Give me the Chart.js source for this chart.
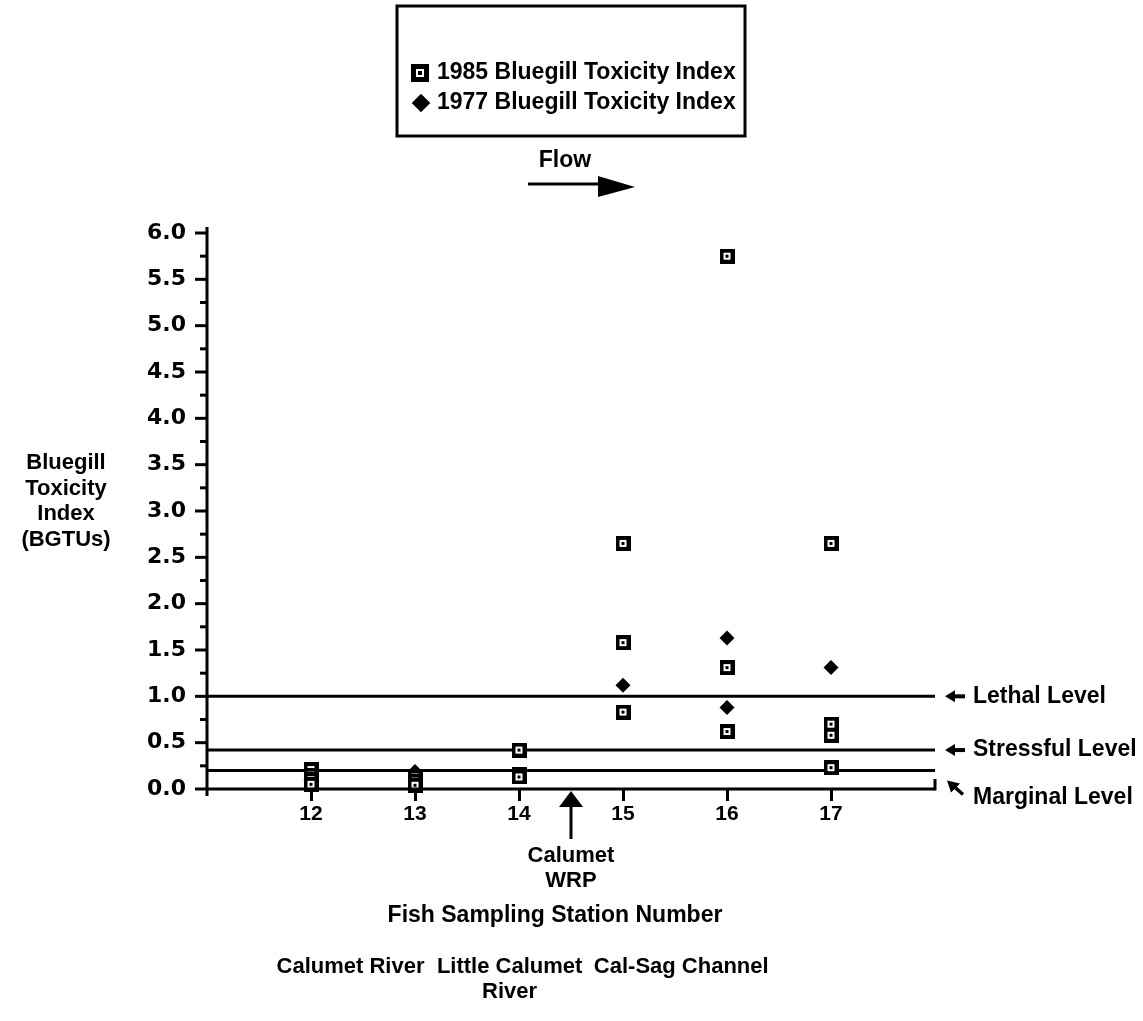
<!DOCTYPE html>
<html lang="en">
<head>
  <meta charset="UTF-8" />
  <title>Bluegill Toxicity Index by Fish Sampling Station</title>
  <script src="https://cdn.jsdelivr.net/npm/chart.js"></script>
  <style>
    body { margin: 0; background: #fff; }
    #wrap { width: 1143px; height: 1021px; position: relative; }
  </style>
</head>
<body>
  <div id="wrap"><canvas id="bgtChart"></canvas></div>

  <script>
    // stations along the x axis
    const stations = [12, 13, 14, 15, 16, 17];
    const yTickValues = [0, 0.5, 1, 1.5, 2, 2.5, 3, 3.5, 4, 4.5, 5, 5.5, 6];
    const yTickLabels = ['0.0', '0.5', '1.0', '1.5', '2.0', '2.5', '3.0', '3.5', '4.0', '4.5', '5.0', '5.5', '6.0'];

    // 1985 survey (squares), lower values last so they sit on top
    const x1985 = [12, 12, 12, 12, 13, 13, 13, 14, 14, 14, 15, 15, 15, 16, 16, 16, 17, 17, 17, 17];
    const y1985 = [0.21, 0.15, 0.1, 0.05, 0.13, 0.085, 0.04, 0.42, 0.16, 0.13, 2.65, 1.58, 0.83, 5.75, 1.31, 0.62, 2.65, 0.7, 0.58, 0.23];

    // 1977 survey (diamonds)
    const x1977 = [12, 13, 15, 16, 16, 17];
    const y1977 = [0.1, 0.19, 1.12, 1.63, 0.88, 1.31];

    // reference levels
    const levelNames = ['Lethal Level', 'Stressful Level', 'Marginal Level'];
    const levelValues = [1.0, 0.42, 0.2];

    // river reaches under the axis
    const reachNames = [['Calumet River'], ['Little Calumet', 'River'], ['Cal-Sag Channel']];
    const reachX = [12.38, 13.91, 15.56];
    const wrpStation = 14.5;

    const SANS = '"Liberation Sans", Arial, sans-serif';
    const FONT = 'bold 22px ' + SANS;
    const FONT_L = 'bold 23px ' + SANS;
    const FONT_NUM = 'bold 22px "DejaVu Sans", sans-serif';

    function squareMarker(size) {
      const c = document.createElement('canvas');
      c.width = size; c.height = size;
      const g = c.getContext('2d');
      g.fillStyle = '#000';
      g.fillRect(0, 0, size, size);
      const w = Math.round(size * 0.45), o = (size - w) / 2;
      g.fillStyle = '#fff';
      g.fillRect(o, o, w, w);
      const b = Math.max(2, Math.round(size * 0.2)), ob = (size - b) / 2;
      g.fillStyle = '#000';
      g.fillRect(ob, ob, b, b);
      return c;
    }
    const sqPoint = squareMarker(15);
    const sqLegend = squareMarker(18);

    function seg(ctx, x1, y1, x2, y2) {
      ctx.beginPath(); ctx.moveTo(x1, y1); ctx.lineTo(x2, y2); ctx.stroke();
    }
    function tri(ctx, pts) {
      ctx.beginPath(); ctx.moveTo(pts[0], pts[1]);
      for (let i = 2; i < pts.length; i += 2) ctx.lineTo(pts[i], pts[i + 1]);
      ctx.closePath(); ctx.fill();
    }

    const decor = {
      id: 'decor',
      afterDraw(chart) {
        const { ctx, scales: { x, y } } = chart;
        ctx.save();
        ctx.fillStyle = '#000';
        ctx.strokeStyle = '#000';
        ctx.lineWidth = 3;

        // axes
        seg(ctx, x.left, y.top - 6, x.left, y.bottom + 7);
        seg(ctx, x.left, y.bottom, x.right, y.bottom);
        seg(ctx, x.right, y.bottom + 1.5, x.right, y.bottom - 10);

        // y ticks, major at labels, minor between
        for (let i = 0; i <= 24; i++) {
          const py = y.getPixelForValue(i * 0.25);
          seg(ctx, x.left - (i % 2 === 0 ? 12 : 7), py, x.left, py);
        }
        ctx.font = FONT_NUM;
        ctx.textBaseline = 'middle';
        ctx.textAlign = 'right';
        yTickValues.forEach((v, i) => ctx.fillText(yTickLabels[i], x.left - 21, y.getPixelForValue(v)));

        // y axis title
        ctx.font = FONT;
        ctx.textAlign = 'center';
        ['Bluegill', 'Toxicity', 'Index', '(BGTUs)'].forEach((t, i) => ctx.fillText(t, 66, 463 + i * 25.5));

        // legend box
        ctx.strokeRect(397, 6, 348, 130);
        ctx.font = FONT_L;
        ctx.textAlign = 'left';
        const ds = chart.data.datasets;
        ctx.drawImage(sqLegend, 420 - 9, 73 - 9);
        ctx.fillText(ds[0].label, 437, 73);
        Chart.helpers.drawPoint(ctx, { pointStyle: 'rectRot', radius: 9, borderWidth: 0 }, 421, 103);
        ctx.fill();
        ctx.fillText(ds[1].label, 437, 103);

        // flow arrow
        ctx.textAlign = 'center';
        ctx.fillText('Flow', 565, 161);
        seg(ctx, 528, 184, 602, 184);
        tri(ctx, [598, 176, 635, 187, 598, 197]);

        // level labels on the right
        ctx.textAlign = 'left';
        levelNames.forEach((name, i) => {
          const py = y.getPixelForValue(levelValues[i]);
          if (i < 2) {
            ctx.lineWidth = 4;
            seg(ctx, 953, py, 965, py);
            tri(ctx, [945, py, 955, py - 6, 955, py + 6]);
            ctx.fillText(name, 973, py);
          } else {
            ctx.lineWidth = 3.5;
            seg(ctx, 953, py + 15, 963, py + 24);
            tri(ctx, [947, py + 10, 960, py + 13, 951, py + 22]);
            ctx.fillText(name, 973, py + 27);
          }
        });

        // WRP marker
        const wx = x.getPixelForValue(wrpStation);
        ctx.lineWidth = 3;
        seg(ctx, wx, y.bottom + 14, wx, y.bottom + 50);
        tri(ctx, [wx, y.bottom + 2, wx + 12, y.bottom + 18, wx - 12, y.bottom + 18]);
        ctx.font = FONT;
        ctx.textAlign = 'center';
        ctx.fillText('Calumet', wx, 856);
        ctx.fillText('WRP', wx, 881);

        ctx.font = FONT_L;
        ctx.fillText('Fish Sampling Station Number', 555, 916);
        ctx.font = FONT;
        reachNames.forEach((lines, i) => {
          lines.forEach((t, j) => ctx.fillText(t, x.getPixelForValue(reachX[i]), 967 + j * 25));
        });
        ctx.restore();
      }
    };

    const datasets = [
      {
        label: '1985 Bluegill Toxicity Index',
        data: x1985.map((v, i) => ({ x: v, y: y1985[i] })),
        pointStyle: sqPoint,
        pointRadius: 8,
        clip: false
      },
      {
        label: '1977 Bluegill Toxicity Index',
        data: x1977.map((v, i) => ({ x: v, y: y1977[i] })),
        pointStyle: 'rectRot',
        pointRadius: 7.5,
        backgroundColor: '#000',
        borderColor: '#000',
        borderWidth: 0,
        clip: false
      }
    ];
    levelValues.forEach((v, i) => {
      datasets.push({
        type: 'line',
        label: levelNames[i],
        data: [{ x: 11, y: v }, { x: 18, y: v }],
        borderColor: '#000',
        borderWidth: 3,
        pointRadius: 0,
        clip: false
      });
    });

    new Chart(document.getElementById('bgtChart'), {
      type: 'scatter',
      data: { datasets },
      options: {
        responsive: true,
        maintainAspectRatio: false,
        animation: false,
        layout: { padding: { top: 233, right: 208, left: 0, bottom: 0 } },
        plugins: { legend: { display: false }, tooltip: { enabled: false } },
        scales: {
          x: {
            type: 'linear', min: 11, max: 18,
            afterBuildTicks: s => { s.ticks = stations.map(v => ({ value: v })); },
            afterFit: s => { s.height = 232; },
            border: { display: false },
            grid: { drawOnChartArea: false, drawTicks: true, tickLength: 12, tickWidth: 3, tickColor: '#000', color: '#000' },
            ticks: { color: '#000', font: { family: SANS, size: 21, weight: 'bold' }, padding: 1, autoSkip: false, maxRotation: 0 }
          },
          y: {
            min: 0, max: 6,
            afterFit: s => { s.width = 207; },
            border: { display: false },
            grid: { display: false },
            ticks: { display: false }
          }
        }
      },
      plugins: [decor]
    });
  </script>
</body>
</html>
